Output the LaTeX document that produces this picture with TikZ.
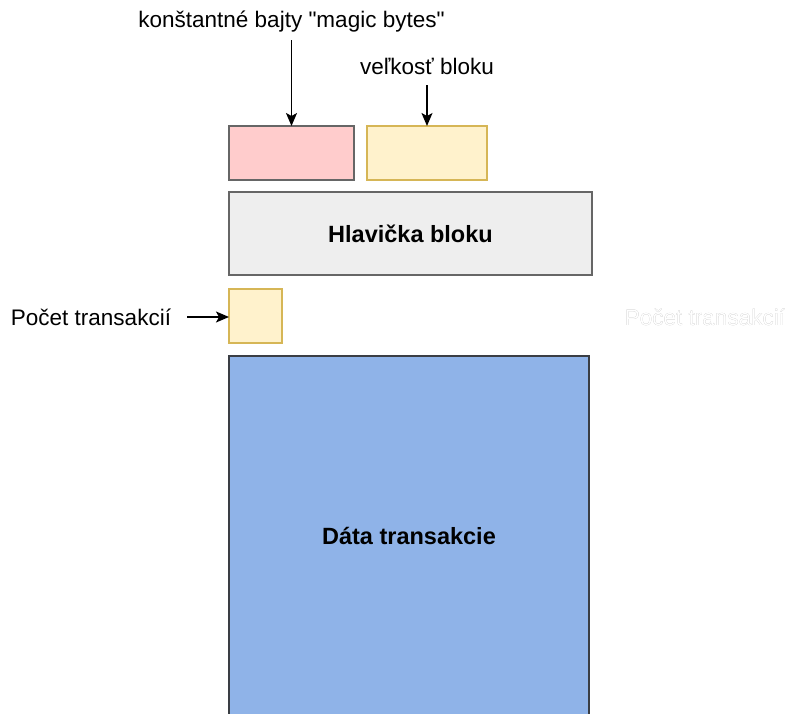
\documentclass[tikz,border=0pt]{standalone}
\usepackage{fontspec}
\setmainfont[Ligatures=TeXOff]{Liberation Sans}
\usepackage[outline]{contour}
\usetikzlibrary{arrows.meta}
\definecolor{pinkfill}{HTML}{FFCCCC}
\definecolor{yellowfill}{HTML}{FFF2CC}
\definecolor{yellowline}{HTML}{D6B656}
\definecolor{greyfill}{HTML}{EEEEEE}
\definecolor{greyline}{HTML}{666666}
\definecolor{bluefill}{HTML}{8FB3E8}
\definecolor{blueline}{HTML}{3A3E44}
\definecolor{ghostline}{HTML}{A0A0A0}
\tikzset{
  field/.style={draw, line width=1.3pt, inner sep=0pt},
  label/.style={font=\fontsize{22.5}{26}\selectfont, inner sep=0pt, text=black},
  title/.style={font=\fontsize{23.5}{27}\selectfont\bfseries, inner sep=0pt},
  pointer/.style={-{Stealth[length=13pt,width=11pt,inset=3pt]}, line width=1.4pt},
}
\contourlength{0.5pt}
\contournumber{32}
\begin{document}
\begin{tikzpicture}[x=1pt,y=-1pt]
  \useasboundingbox (0,0) rectangle (785,713);
  \begin{scope}
    \clip (0,0) rectangle (785,713);
    % header fields
    \path[field, fill=pinkfill, draw=greyline] (229,126) rectangle (354,180);
    \path[field, fill=yellowfill, draw=yellowline] (367,126) rectangle (487,180);
    % block header
    \path[field, fill=greyfill, draw=greyline] (229,192) rectangle (592,275);
    \node[title] (header) at (410.5,234) {Hlavička bloku};
    % transaction counter
    \path[field, fill=yellowfill, draw=yellowline] (229,289) rectangle (282,343);
    % transaction data
    \path[field, fill=bluefill, draw=blueline] (229,356) rectangle (589,730);
    \node[title] (data) at (409,536) {Dáta transakcie};
    % annotations
    \node[label] (magictext) at (291.5,22) {konštantné bajty "magic bytes"};
    \node[label] (sizetext) at (427,66) {veľkosť bloku};
    \node[label] (counttext) at (91,317) {Počet transakcií};
    \node[label, text=white] (ghost) at (705,317) {\contour{ghostline}{Počet transakcií}};
    \coordinate (magictip) at (291.5,126);
    \coordinate (magicstart) at (291.5,40);
    \coordinate (sizetip) at (427,126);
    \coordinate (sizestart) at (427,85);
    \coordinate (counttip) at (229,317);
    \coordinate (countstart) at (187,317);
    \draw[pointer] (magicstart) -- (magictip);
    \draw[pointer] (sizestart) -- (sizetip);
    \draw[pointer] (countstart) -- (counttip);
  \end{scope}
\end{tikzpicture}
\end{document}
